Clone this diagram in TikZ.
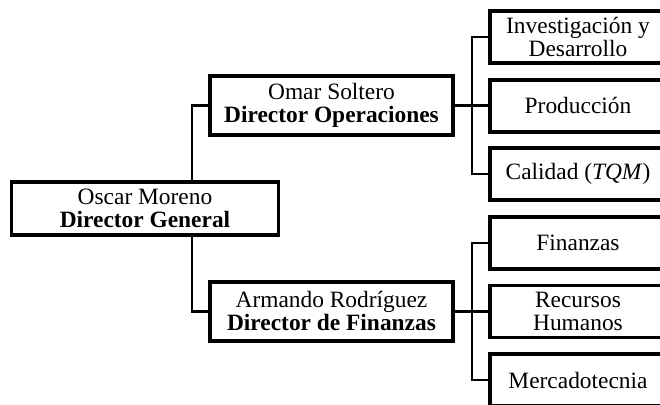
\documentclass[tikz,border=0pt]{standalone}
\usepackage{fontspec}
\setmainfont{Liberation Serif}
\usetikzlibrary{positioning,calc}

\tikzset{
  box/.style={draw,line width=1.9pt,align=center,inner sep=0pt,outer sep=0pt},
  boss/.style={box,minimum width=121.5pt,minimum height=29.5pt},
  unit/.style={box,minimum width=88pt,minimum height=26pt},
  link/.style={line width=1.2pt}
}

\begin{document}
\begin{tikzpicture}[node distance=8.3pt,font=\fontsize{11.7}{11.5}\selectfont]
	\path[use as bounding box] (0pt,0pt) rectangle (330pt,-202pt);
	% unidades
	\node[unit] (inv) at (289pt,-18.5pt) {Investigación y\\Desarrollo};
	\node[unit,below=of inv] (prod) {Producción};
	\node[unit,below=of prod] (cal) {Calidad (\textit{TQM})};
	\node[unit,below=of cal] (fin) {Finanzas};
	\node[unit,below=of fin] (rh) {Recursos\\Humanos};
	\node[unit,below=of rh] (merc) {Mercadotecnia};
	% directores
	\node[boss,left=18.5pt of prod] (dirop) {Omar Soltero\\\textbf{Director Operaciones}};
	\node[boss,left=18.5pt of rh] (dirfin) {Armando Rodríguez\\\textbf{Director de Finanzas}};
	\node[box,minimum width=133.5pt,minimum height=26.5pt] (gral) at (72.5pt,-104.25pt) {Oscar Moreno\\\textbf{Director General}};
	% lineas
	\draw[link] (dirop.west) -| ([xshift=-9pt]dirop.west |- gral.north);
	\draw[link] (dirfin.west) -| ([xshift=-9pt]dirfin.west |- gral.south);
	\draw[link] (dirop.east) -- (dirop.east -| prod.west);
	\draw[link] (inv.west) -- ++(-9pt,0) |- (cal.west);
	\draw[link] (dirfin.east) -- (dirfin.east -| rh.west);
	\draw[link] (fin.west) -- ++(-9pt,0) |- (merc.west);
\end{tikzpicture}
\end{document}
